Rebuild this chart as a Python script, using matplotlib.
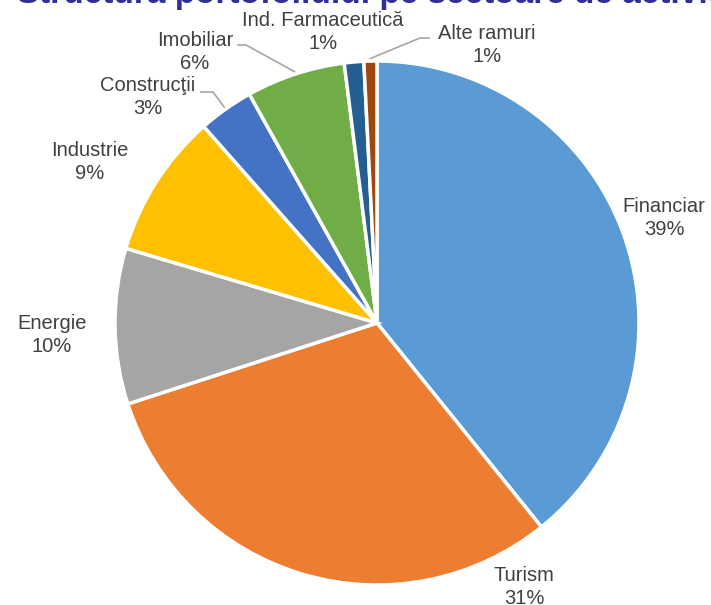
import numpy as np
import matplotlib
matplotlib.use("Agg")
import matplotlib.pyplot as plt

plt.rcParams['font.family'] = ['Liberation Sans', 'DejaVu Sans']

# date
sectoare = ['Financiar', 'Turism', 'Energie', 'Industrie', 'Construcţii',
            'Imobiliar', 'Ind. Farmaceutică', 'Alte ramuri']
procente = [39.2, 30.8, 9.6, 8.9, 3.4, 6.1, 1.2, 0.8]
culori = ['#5B9BD5', '#ED7D31', '#A5A5A5', '#FFC000', '#4472C4',
          '#70AD47', '#255E91', '#9E480E']
titlu = 'Structura portofoliului pe sectoare de activitate'

W, H = 711, 605
cx, cy, r = 377, 323, 262

# pozitia etichetelor (pixeli, y de sus)
poz_etichete = [(664, 218), (524, 587), (52, 335), (90, 162),
                (148, 97), (195, 52), (323, 32), (487, 45)]
# linii de legatura (cotul si capatul langa text)
linii = {4: [(213, 92), (201, 92)],
         5: [(246, 45), (238, 45)],
         7: [(420, 38), (429, 38)]}

fig = plt.figure(figsize=(W / 100, H / 100), dpi=100)
ax = fig.add_axes([0, 0, 1, 1])

wedges, _ = ax.pie(procente, colors=culori, startangle=90, counterclock=False,
                   center=(cx, H - cy), radius=r,
                   wedgeprops=dict(edgecolor='white', linewidth=2.5))
ax.set_xlim(0, W)
ax.set_ylim(0, H)
ax.set_aspect('equal')
ax.axis('off')

total = sum(procente)
cum = 0
for i, (nume, val) in enumerate(zip(sectoare, procente)):
    mid = 90 - (cum + val / 2) / total * 360
    cum += val
    x, y = poz_etichete[i]
    ax.text(x, H - y, f'{nume}\n{round(val / total * 100):.0f}%',
            ha='center', va='center', fontsize=14.5, color='#404040',
            linespacing=1.25)
    if i in linii:
        a = np.deg2rad(mid)
        x0 = cx + r * 1.01 * np.cos(a)
        y0 = H - cy + r * 1.01 * np.sin(a)
        xs = [x0] + [p[0] for p in linii[i]]
        ys = [y0] + [H - p[1] for p in linii[i]]
        ax.plot(xs, ys, color='#A6A6A6', linewidth=1.2)

# titlul taiat sus
ax.text(392, H + 6, titlu, ha='center', va='center', fontsize=24,
        fontweight='bold', color='#2E3192', clip_on=False)

fig.savefig('out.png', dpi=100)
